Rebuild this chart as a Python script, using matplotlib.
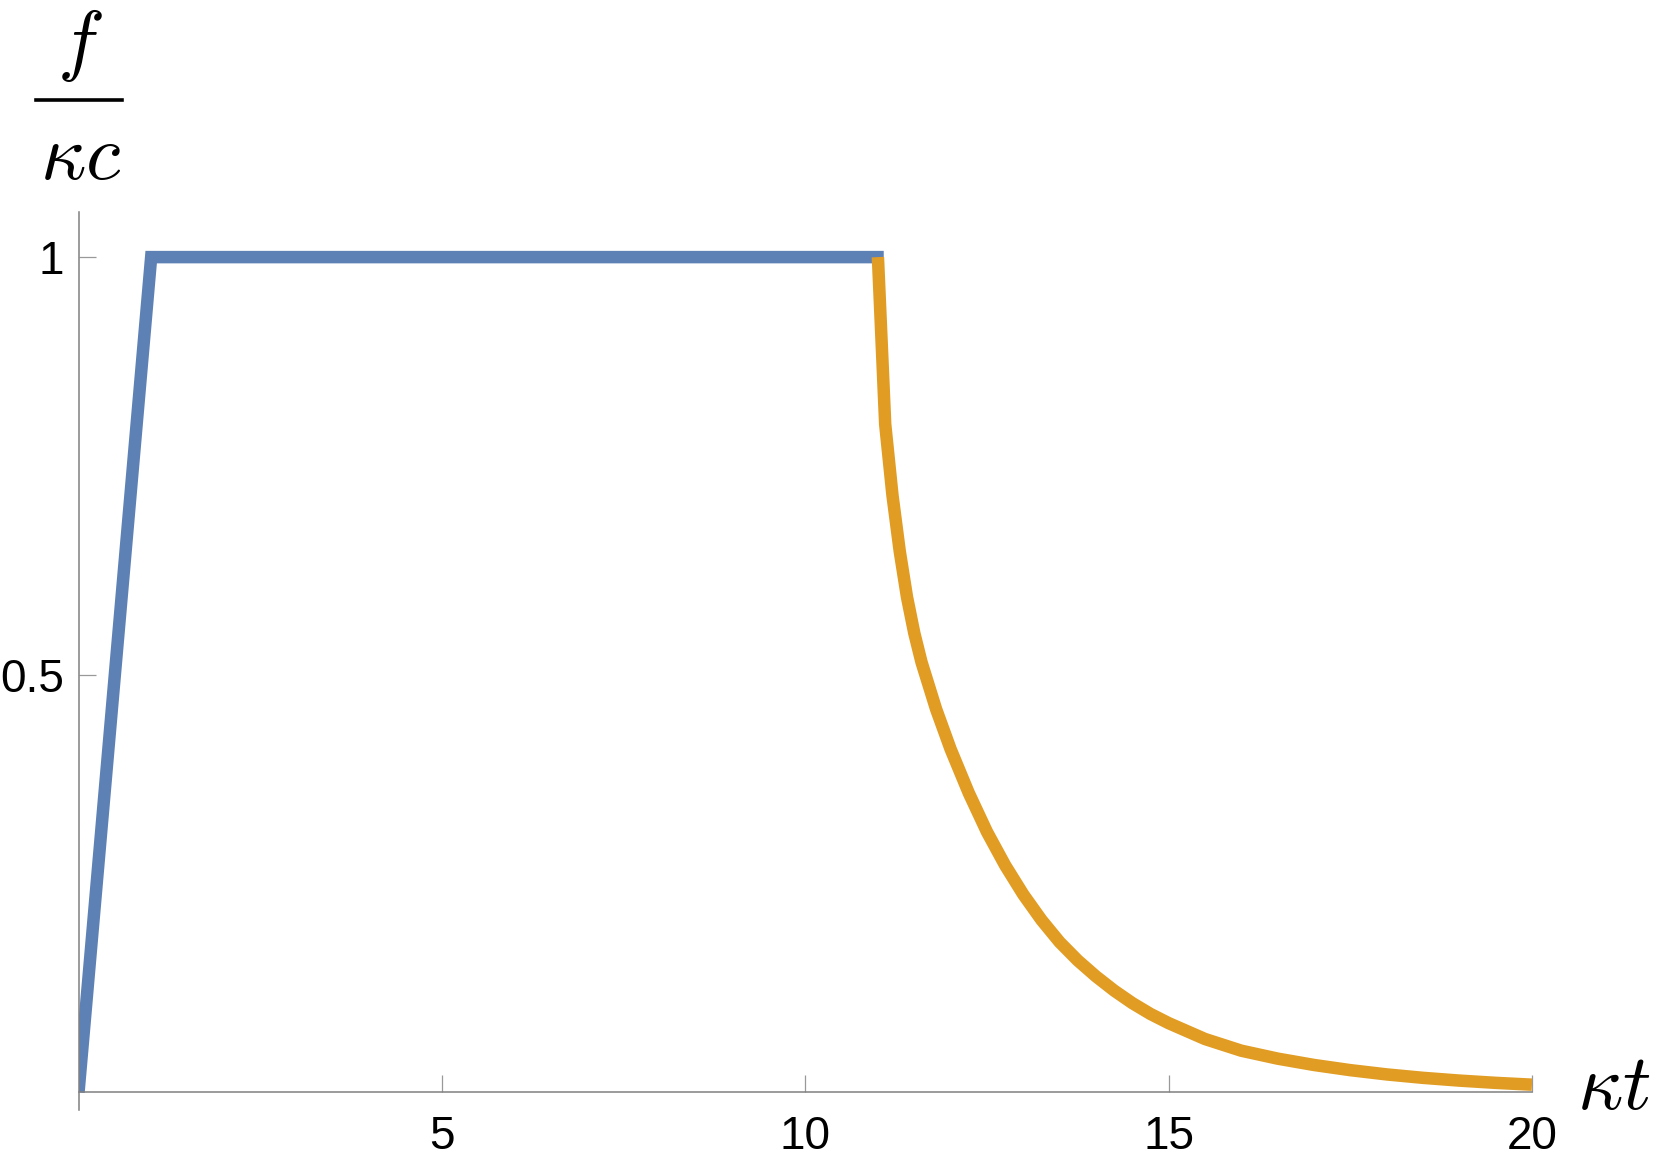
import matplotlib
matplotlib.use('Agg')
import matplotlib.pyplot as plt
from matplotlib.lines import Line2D

plt.rcParams['mathtext.fontset'] = 'cm'
plt.rcParams['font.family'] = ['Liberation Sans', 'DejaVu Sans']

# ---- data ----
ramp_t = [0.0, 1.0, 11.08]
ramp_f = [0.0, 1.0, 1.0]

decay_t = [11.0, 11.1, 11.2, 11.3, 11.4, 11.5, 11.6, 11.8, 12.0, 12.25, 12.5,
           12.75, 13.0, 13.25, 13.5, 13.75, 14.0, 14.25, 14.5, 14.75, 15.0,
           15.5, 16.0, 16.5, 17.0, 17.5, 18.0, 18.5, 19.0, 19.5, 20.0]
decay_f = [1.0, 0.80, 0.715, 0.648, 0.593, 0.55, 0.515, 0.459, 0.411, 0.3585, 0.312,
           0.272, 0.237, 0.2065, 0.18, 0.158, 0.139, 0.122, 0.107, 0.094, 0.083,
           0.064, 0.050, 0.0405, 0.0329, 0.0267, 0.0216, 0.0175, 0.0142, 0.0115, 0.0093]

xticks = [5, 10, 15, 20]
xtick_labels = ['5', '10', '15', '20']
yticks = [0.5, 1.0]
ytick_labels = ['0.5', '1']

W, H = 1661, 1172
fig = plt.figure(figsize=(W / 100, H / 100), dpi=100)
ax = fig.add_axes([78.5 / W, (H - 1110) / H, (1532 - 78.5) / W, (1110 - 212) / H])

ax.plot(ramp_t, ramp_f, color='#5E81B5', lw=9, solid_capstyle='butt',
        solid_joinstyle='miter', zorder=2)
ax.plot(decay_t, decay_f, color='#E19C24', lw=9, solid_capstyle='butt',
        solid_joinstyle='round', zorder=3)

ax.set_xlim(0, 20)
ax.set_ylim(-0.021, 1.054)

for s in ['top', 'right']:
    ax.spines[s].set_visible(False)
ax.spines['bottom'].set_position(('data', 0))
axis_gray = '#808080'
for s in ['bottom', 'left']:
    ax.spines[s].set_color(axis_gray)
    ax.spines[s].set_linewidth(1.1)

ax.set_xticks(xticks)
ax.set_xticklabels(xtick_labels)
ax.set_yticks(yticks)
ax.set_yticklabels(ytick_labels)
ax.tick_params(axis='both', direction='in', length=12.5, width=0.9,
               color='#999999', labelsize=33, labelcolor='black')
ax.tick_params(axis='x', pad=16)
ax.tick_params(axis='y', pad=10.4)

# axis labels (Mathematica-style placement)
fig.text(80 / W, 1 - 46 / H, r'$f$', fontsize=57, ha='center', va='center')
fig.add_artist(Line2D([36 / W, 122 / W], [1 - 99.5 / H, 1 - 99.5 / H],
                      color='black', lw=2.6, transform=fig.transFigure))
fig.text(81 / W, 1 - 159 / H, r'$\kappa c$', fontsize=57, ha='center', va='center')
fig.text(1613.5 / W, 1 - 1089 / H, r'$\kappa t$', fontsize=57, ha='center', va='center')

fig.savefig('out.png', dpi=100)
